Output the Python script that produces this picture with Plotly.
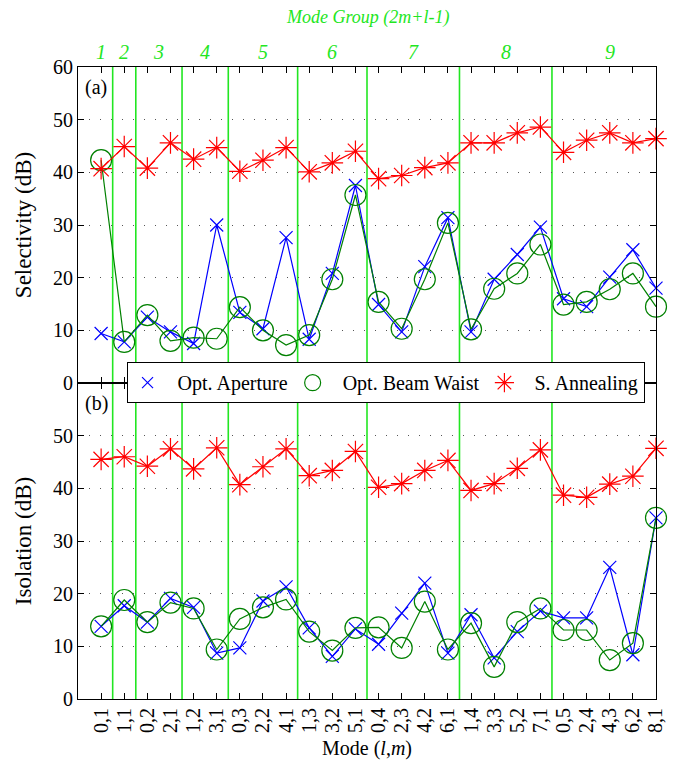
import plotly.graph_objects as go

# Mode indices (l, m)
mode_l = [0, 1, 0, 2, 1, 3, 0, 2, 4, 1, 3, 5, 0, 2, 4, 6, 1, 3, 5, 7, 0, 2, 4, 6, 8]
mode_m = [1, 1, 2, 1, 2, 1, 3, 2, 1, 3, 2, 1, 4, 3, 2, 1, 4, 3, 2, 1, 5, 4, 3, 2, 1]
mode_labels = [f"{l},{m}" for l, m in zip(mode_l, mode_m)]
mode_groups = [2 * m + l - 1 for l, m in zip(mode_l, mode_m)]

# (a) Selectivity (dB)
sel_aperture = [9.4, 7.8, 12.5, 9.7, 7.5, 30.0, 13.4, 10.3, 27.6, 8.3, 20.8, 37.5,
                14.9, 9.7, 22.1, 31.4, 9.7, 19.7, 24.4, 29.6, 16.0, 14.5, 20.1, 25.3, 18.0]
sel_waist = [42.3, 7.8, 12.9, 8.0, 8.6, 8.4, 14.4, 10.0, 7.2, 9.1, 19.7, 35.7,
             15.4, 10.3, 19.7, 30.4, 10.2, 17.9, 20.8, 26.3, 14.9, 15.4, 17.8, 20.8, 14.5]
sel_annealing = [40.7, 44.9, 40.8, 45.6, 42.5, 44.7, 40.2, 42.3, 44.7, 40.1, 41.8, 44.0,
                 38.8, 39.4, 40.9, 41.8, 45.6, 45.6, 47.5, 48.6, 43.8, 46.1, 47.5, 45.6, 46.4]

# (b) Isolation (dB)
iso_aperture = [13.8, 17.7, 14.6, 19.1, 17.4, 8.7, 9.7, 18.6, 21.3, 13.5, 8.1, 13.3,
                10.4, 16.3, 22.0, 8.7, 16.0, 7.8, 12.8, 16.7, 15.4, 15.4, 25.0, 8.4, 34.4]
iso_waist = [13.8, 18.8, 14.6, 18.3, 17.2, 9.4, 15.2, 17.4, 18.9, 12.8, 9.2, 13.5,
             13.6, 9.7, 18.5, 9.4, 14.4, 6.1, 14.6, 17.2, 13.1, 13.1, 7.4, 10.6, 34.4]
iso_annealing = [45.5, 46.0, 44.2, 47.5, 43.7, 47.7, 40.7, 44.1, 47.5, 42.4, 43.4, 47.0,
                 40.2, 40.9, 43.4, 45.3, 39.6, 40.9, 43.8, 47.3, 38.7, 38.3, 40.8, 42.3, 47.6]

series_names = ["Opt. Aperture", "Opt. Beam Waist", "S. Annealing"]

FONT = "Liberation Serif, Times New Roman, serif"
BLUE = "#0000ff"
DGREEN = "#008000"
RED = "#ff0000"
LIME = "#22e622"

x = list(range(1, len(mode_labels) + 1))

styles = [
    dict(color=BLUE, symbol="x-thin-open", size=13),
    dict(color=DGREEN, symbol="circle-open", size=21),
    dict(color=RED, symbol="asterisk-open", size=18),
]

fig = go.Figure()

panels = [
    ([sel_aperture, sel_waist, sel_annealing], "x2", "y"),
    ([iso_aperture, iso_waist, iso_annealing], "x", "y2"),
]
for data, xa, ya in panels:
    for vals, st in zip(data, styles):
        fig.add_trace(go.Scatter(
            x=x, y=vals, mode="lines+markers", xaxis=xa, yaxis=ya,
            showlegend=False, cliponaxis=False,
            line=dict(color=st["color"], width=1.2),
            marker=dict(symbol=st["symbol"], size=st["size"], color=st["color"],
                        line=dict(color=st["color"], width=1.2)),
        ))

# legend-only traces (marker without line)
for name, st in zip(series_names, styles):
    fig.add_trace(go.Scatter(
        x=[None], y=[None], mode="markers", name="  " + name,
        xaxis="x", yaxis="y2",
        marker=dict(symbol=st["symbol"], size=st["size"] - 2, color=st["color"],
                    line=dict(color=st["color"], width=1.2)),
    ))

# group boundaries
bounds = []
for i in range(1, len(mode_groups)):
    if mode_groups[i] != mode_groups[i - 1]:
        bounds.append(x[i] - 0.5)
for b in bounds:
    fig.add_shape(type="line", xref="x", yref="paper", x0=b, x1=b, y0=0, y1=1,
                  line=dict(color=LIME, width=1.6), layer="below")

# group labels
groups_unique = sorted(set(mode_groups))
for g in groups_unique:
    xs = [xi for xi, gi in zip(x, mode_groups) if gi == g]
    cx = (min(xs) + max(xs)) / 2
    fig.add_annotation(x=cx, xref="x2", y=1.0237, yref="paper", text=f"<i>{g}</i>",
                       showarrow=False, yanchor="middle",
                       font=dict(family=FONT, size=20, color=LIME))

fig.add_annotation(x=0.5, xref="paper", y=1.079, yref="paper",
                   text="<i>Mode Group (2m+l-1)</i>", showarrow=False, yanchor="middle",
                   font=dict(family=FONT, size=18, color=LIME))

fig.add_annotation(x=0.008, xref="x2 domain", y=0.978, yref="y domain", text="(a)",
                   showarrow=False, xanchor="left", yanchor="top",
                   font=dict(family=FONT, size=20, color="black"))
fig.add_annotation(x=0.008, xref="x domain", y=0.978, yref="y2 domain", text="(b)",
                   showarrow=False, xanchor="left", yanchor="top",
                   font=dict(family=FONT, size=20, color="black"))

axis_common = dict(showline=True, linecolor="black", linewidth=1.2, mirror="ticks",
                   ticks="inside", ticklen=6, tickcolor="black", tickwidth=1,
                   zeroline=False, tickfont=dict(family=FONT, size=20, color="black"))

fig.update_layout(
    width=679, height=767,
    margin=dict(l=78, r=18, t=67, b=66),
    paper_bgcolor="white", plot_bgcolor="white",
    font=dict(family=FONT, size=20, color="black"),
    xaxis=dict(domain=[0, 1], anchor="y2", range=[0, len(x)], tickvals=x,
               ticktext=mode_labels, tickangle=-90, showgrid=False,
               title=dict(text="Mode (<i>l</i>,<i>m</i>)", standoff=8,
                          font=dict(family=FONT, size=20)),
               **axis_common),
    xaxis2=dict(domain=[0, 1], anchor="y", range=[0, len(x)], tickvals=x,
                showticklabels=False, showgrid=False, matches="x", **axis_common),
    yaxis=dict(domain=[0.5, 1], anchor="x2", range=[0, 60], tickvals=[0, 10, 20, 30, 40, 50, 60],
               showgrid=True, gridcolor="#555555", gridwidth=1, griddash="1px,10px",
               title=dict(text="Selectivity (dB)", standoff=14, font=dict(family=FONT, size=23)),
               **axis_common),
    yaxis2=dict(domain=[0, 0.5], anchor="x", range=[0, 60], tickvals=[0, 10, 20, 30, 40, 50],
                showgrid=True, gridcolor="#555555", gridwidth=1, griddash="1px,10px",
                title=dict(text="Isolation (dB)", standoff=14, font=dict(family=FONT, size=23)),
                **axis_common),
    legend=dict(orientation="h", x=0.084, xanchor="left", y=0.533, yanchor="top",
                bgcolor="white", bordercolor="black", borderwidth=1,
                font=dict(family=FONT, size=20, color="black"),
                itemwidth=30, tracegroupgap=0),
)

fig.write_html("out.html")
